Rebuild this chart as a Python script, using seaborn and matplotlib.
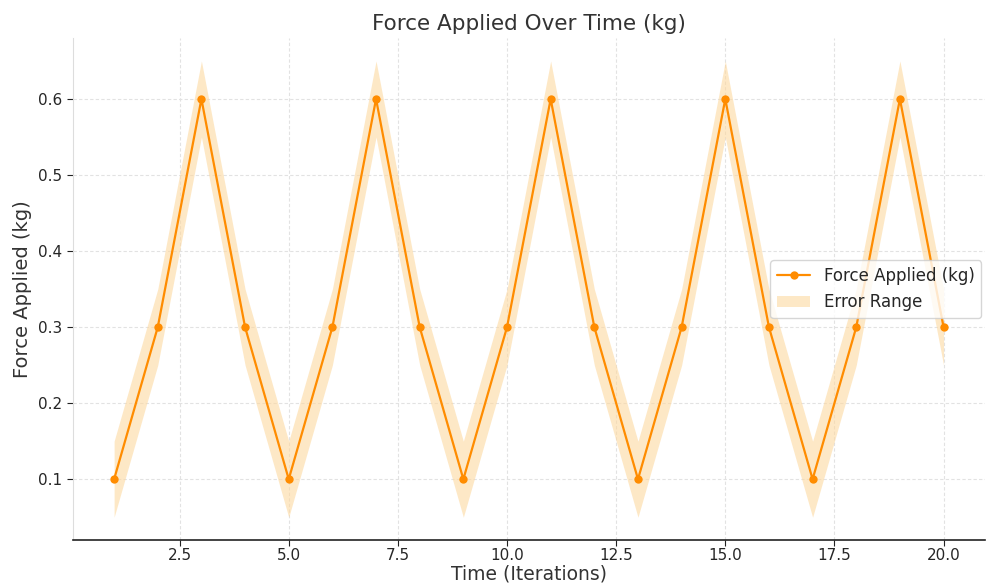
import matplotlib
matplotlib.use("Agg")
import matplotlib.pyplot as plt
import seaborn as sns
import pandas as pd

# data
time = list(range(1, 21))
force = [0.1, 0.3, 0.6, 0.3, 0.1, 0.3, 0.6, 0.3, 0.1, 0.3,
         0.6, 0.3, 0.1, 0.3, 0.6, 0.3, 0.1, 0.3, 0.6, 0.3]
error = [0.05] * 20

df = pd.DataFrame({"Time": time, "Force": force, "Err": error})

sns.set_style("whitegrid", {"grid.linestyle": (0, (3, 2)), "grid.color": "#e2e2e2"})
plt.rcParams['font.family'] = ['DejaVu Sans']

fig, ax = plt.subplots(figsize=(9.95, 5.87), dpi=100)

sns.lineplot(data=df, x="Time", y="Force", marker="o", color="#ff8c00",
             markersize=6, markeredgewidth=0, linewidth=1.6,
             label="Force Applied (kg)", ax=ax)
ax.fill_between(df["Time"], df["Force"] - df["Err"], df["Force"] + df["Err"],
                color="#fdd9a0", alpha=0.6, linewidth=0, label="Error Range")

ax.set_title("Force Applied Over Time (kg)", fontsize=15.5, color="#333333")
ax.set_xlabel("Time (Iterations)", fontsize=13.5, color="#333333", labelpad=1)
ax.set_ylabel("Force Applied (kg)", fontsize=14, color="#333333")
ax.set_xticks([2.5, 5.0, 7.5, 10.0, 12.5, 15.0, 17.5, 20.0])
ax.set_yticks([0.1, 0.2, 0.3, 0.4, 0.5, 0.6])
ax.tick_params(axis="both", labelsize=11, length=4, color="#222222", left=True, bottom=True)
ax.tick_params(axis="x", pad=2)
ax.grid(linewidth=0.8)

ax.spines["top"].set_visible(False)
ax.spines["right"].set_visible(False)
ax.spines["left"].set_color("#dddddd")
ax.spines["bottom"].set_color("#222222")
ax.spines["bottom"].set_linewidth(1.2)

ax.legend(loc="center right", fontsize=12, frameon=True, bbox_to_anchor=(1.005, 0.5))

plt.subplots_adjust(left=0.073, right=0.99, top=0.935, bottom=0.08)
plt.savefig("out.png", dpi=100)
